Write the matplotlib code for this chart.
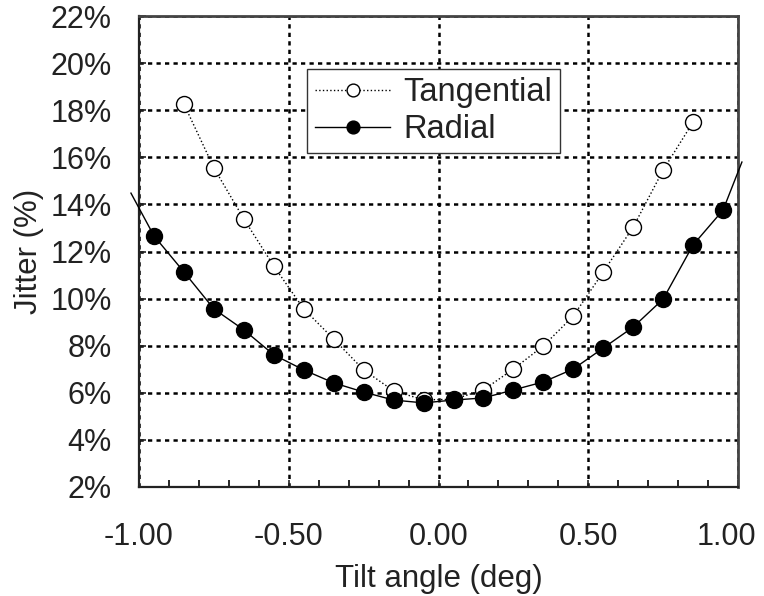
import matplotlib.pyplot as plt
from matplotlib.ticker import MultipleLocator, FuncFormatter
from matplotlib.transforms import ScaledTranslation

plt.rcParams['font.family'] = ['Liberation Sans', 'DejaVu Sans']

# Data
tilt = [-0.95, -0.85, -0.75, -0.65, -0.55, -0.45, -0.35, -0.25, -0.15, -0.05,
        0.05, 0.15, 0.25, 0.35, 0.45, 0.55, 0.65, 0.75, 0.85, 0.95]
radial = [12.66, 11.13, 9.56, 8.67, 7.61, 6.97, 6.42, 6.03, 5.69, 5.57,
          5.69, 5.78, 6.12, 6.46, 7.01, 7.90, 8.79, 9.98, 12.28, 13.76]

tilt_tan = [-0.85, -0.75, -0.65, -0.55, -0.45, -0.35, -0.25, -0.15, -0.05,
            0.05, 0.15, 0.25, 0.35, 0.45, 0.55, 0.65, 0.75, 0.85]
tangential = [18.26, 15.55, 13.38, 11.38, 9.56, 8.28, 6.97, 6.08, 5.70,
              5.72, 6.12, 7.01, 7.99, 9.26, 11.13, 13.04, 15.46, 17.50]

# the radial curve runs a little past the plot frame at both ends
radial_end_x = [-1.027, 1.013]
radial_end_y = [14.48, 15.80]

x_ticks = [-1.0, -0.5, 0.0, 0.5, 1.0]
x_labels = ['-1.00', '-0.50', '0.00', '0.50', '1.00']

fig = plt.figure(figsize=(7.64, 5.96), dpi=100)
ax = fig.add_axes([0.182, 0.183, 0.784, 0.790])

ax.plot(tilt_tan, tangential, ls=':', color='black', lw=1.0, marker='o',
        ms=11.5, mfc='white', mec='black', mew=1.0, label='Tangential', zorder=3)
ax.plot(tilt, radial, ls='-', color='black', lw=1.0, marker='o',
        ms=11.5, mfc='black', mec='black', label='Radial', zorder=4)
ax.plot([radial_end_x[0], tilt[0]], [radial_end_y[0], radial[0]], color='black',
        lw=1.0, clip_on=False, zorder=4)
ax.plot([tilt[-1], radial_end_x[1]], [radial[-1], radial_end_y[1]], color='black',
        lw=1.0, clip_on=False, zorder=4)

ax.set_xlim(-1.0, 1.0)
ax.set_ylim(2, 22)
ax.set_xticks(x_ticks, x_labels)
ax.xaxis.set_minor_locator(MultipleLocator(0.1))
ax.yaxis.set_major_locator(MultipleLocator(2))
ax.yaxis.set_major_formatter(FuncFormatter(lambda v, p: f'{v:.0f}%'))

ax.tick_params(axis='both', which='major', direction='in', length=5, width=1.2,
               labelsize=22, color='#222222', labelcolor='#222222')
ax.tick_params(axis='y', which='major', pad=19.5)
ax.tick_params(axis='x', which='major', pad=25)
ax.tick_params(axis='x', which='minor', direction='in', length=5, width=1.2)

ax.grid(True, which='major', color='black', ls=(0, (1.7, 1.7)), lw=1.8)

for side in ['left', 'bottom']:
    ax.spines[side].set_linewidth(1.6)
    ax.spines[side].set_color('#222222')
for side in ['top', 'right']:
    ax.spines[side].set_linewidth(2.0)
    ax.spines[side].set_color('#444444')

ax.set_xlabel('Tilt angle (deg)', fontsize=22.5, labelpad=9, color='#222222')
ax.set_ylabel('Jitter (%)', fontsize=22.5, labelpad=5, color='#222222')

leg = ax.legend(loc='upper left', bbox_to_anchor=(0.2805, 0.8875), fontsize=23.5,
                frameon=True, fancybox=False, framealpha=1, edgecolor='#333333',
                handlelength=2.3, handletextpad=0.4, borderpad=0.25,
                labelspacing=0.18, borderaxespad=0, markerscale=0.8)
leg.get_frame().set_linewidth(1.0)
for t in leg.get_texts():
    t.set_color('#222222')

# keep the right-most tick label inside the picture
fig.canvas.draw()
for lab in ax.get_xticklabels():
    if lab.get_text() == x_labels[-1]:
        lab.set_transform(lab.get_transform()
                          + ScaledTranslation(-8 / 72, 0, fig.dpi_scale_trans))

fig.savefig('out.png', dpi=100)
